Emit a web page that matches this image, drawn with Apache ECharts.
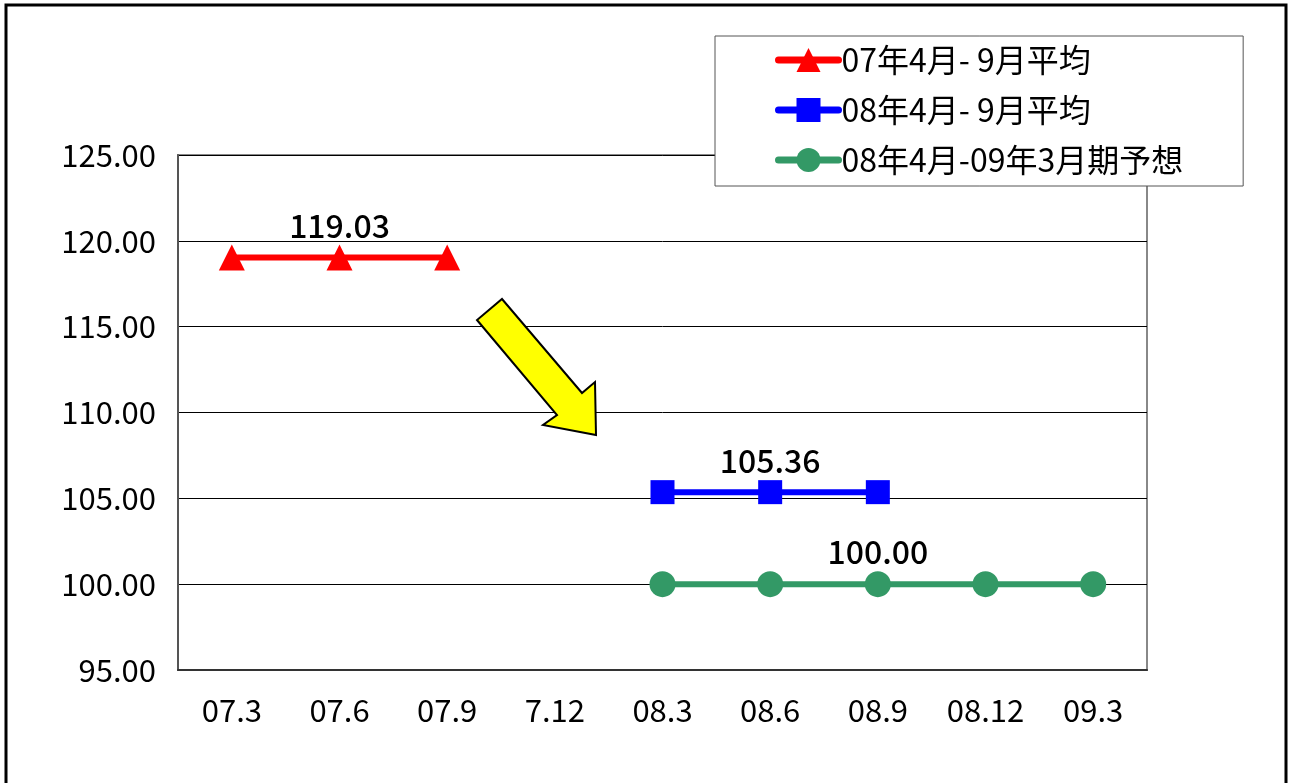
<!DOCTYPE html>
<html>
<head>
<meta charset="utf-8">
<script src="https://cdn.jsdelivr.net/npm/echarts@6/dist/echarts.min.js"></script>
<style>html,body{margin:0;padding:0;background:#fff;}#c{width:1292px;height:783px;}</style>
</head>
<body>
<div id="c"></div>
<script>
const categories = ['07.3', '07.6', '07.9', '7.12', '08.3', '08.6', '08.9', '08.12', '09.3'];
const seriesNames = ['07年4月- 9月平均', '08年4月- 9月平均', '08年4月-09年3月期予想'];
const red07 = [119.03, 119.03, 119.03, null, null, null, null, null, null];
const blue08 = [null, null, null, null, 105.36, 105.36, 105.36, null, null];
const green0809 = [null, null, null, null, 100.00, 100.00, 100.00, 100.00, 100.00];
const labelAt = [1, 5, 6];
const yTicks = [95, 100, 105, 110, 115, 120, 125];

const FONT = '"Noto Sans CJK JP", "Noto Sans", sans-serif';
const chart = echarts.init(document.getElementById('c'));

function mk(values, li) {
  return values.map((v, i) => {
    if (i === li && v != null) {
      return { value: v, label: { show: true, position: 'top', distance: 3,
        formatter: p => p.value.toFixed(2), fontSize: 32, fontFamily: FONT, color: '#000', fontWeight: 500 } };
    }
    return v;
  });
}

const colors = ['#FF0000', '#0000FF', '#339966'];
const symbols = ['triangle', 'rect', 'circle'];
const datas = [red07, blue08, green0809];

chart.setOption({
  animation: false,
  backgroundColor: '#fff',
  textStyle: { fontFamily: FONT },
  grid: { left: 178, right: 145, top: 155, bottom: 113, show: true, borderColor: '#888', borderWidth: 2, containLabel: false },
  legend: {
    orient: 'vertical', left: 715, top: 36,
    padding: [8, 60, 10, 60],
    backgroundColor: '#fff', borderColor: '#555', borderWidth: 1,
    itemWidth: 60, itemHeight: 30, itemGap: 18,
    lineStyle: { width: 7, cap: 'round' },
    textStyle: { fontSize: 32, fontFamily: FONT, color: '#000', padding: [0, 0, 0, -2] },
    data: seriesNames
  },
  xAxis: {
    type: 'category', data: categories, boundaryGap: true,
    axisLine: { lineStyle: { color: '#333', width: 2 } },
    axisTick: { inside: true, length: 9, lineStyle: { color: '#000', width: 1 } },
    axisLabel: { fontSize: 31, fontFamily: FONT, color: '#000', margin: 25 },
    splitLine: { show: false }
  },
  yAxis: {
    type: 'value', min: 95, max: 125, interval: 5,
    axisLine: { show: true, lineStyle: { color: '#555', width: 2 } },
    axisTick: { show: false },
    axisLabel: { fontSize: 31, fontFamily: FONT, color: '#000', margin: 22,
      formatter: v => yTicks.includes(v) ? v.toFixed(2) : '' },
    splitLine: { show: true, lineStyle: { color: '#000', width: 1 } }
  },
  series: datas.map((d, k) => ({
    name: seriesNames[k], type: 'line', data: mk(d, labelAt[k]),
    symbol: symbols[k], symbolSize: k === 1 ? 24 : 26,
    connectNulls: false,
    lineStyle: { color: colors[k], width: 6 },
    itemStyle: { color: colors[k] },
    z: 3
  })),
  graphic: [
    { type: 'polygon', z: 10,
      shape: { points: [[502, 299], [582, 393], [595, 382], [596, 435], [543, 425], [557, 415], [477, 320]] },
      style: { fill: '#FFFF00', stroke: '#000', lineWidth: 2 } },
    { type: 'rect', z: 20, shape: { x: 6, y: 5, width: 1280, height: 800 },
      style: { fill: 'none', stroke: '#000', lineWidth: 3 } }
  ]
});
</script>
</body>
</html>
